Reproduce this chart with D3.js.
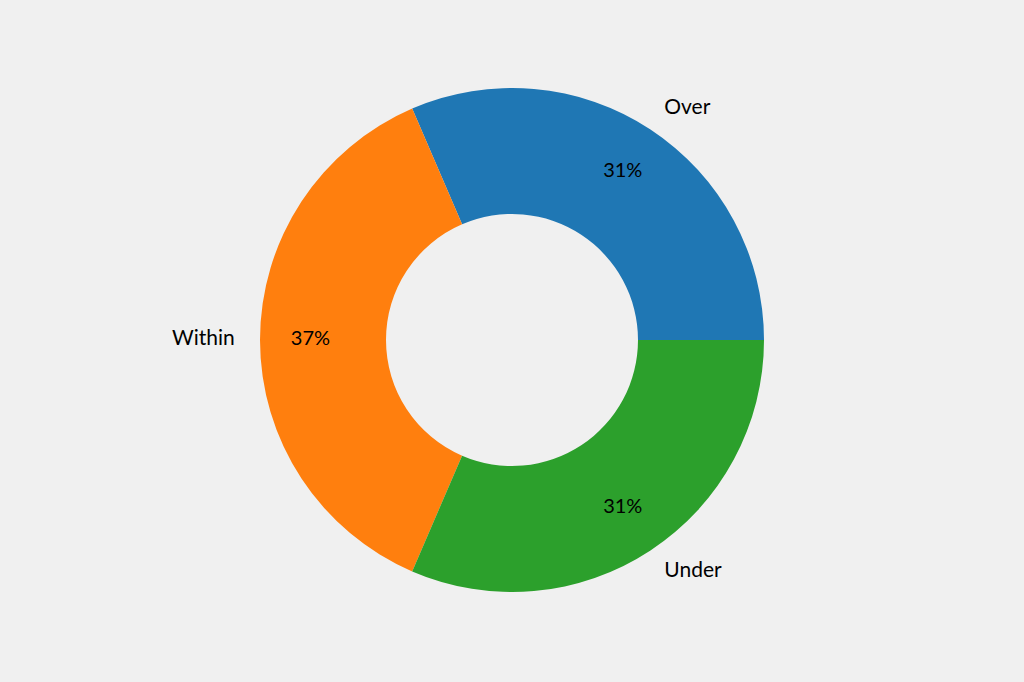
<!DOCTYPE html>
<html><head><meta charset="utf-8">
<script src="https://cdn.jsdelivr.net/npm/d3@7"></script>
<style>body{margin:0;background:#f0f0f0}</style>
</head><body>
<svg width="1024" height="682"></svg>
<script>
var labels = ["Over", "Within", "Under"];
var values = [17, 20, 17];
var colors = ["#1f77b4", "#ff7f0e", "#2ca02c"];

var R = 252, r = 126;
var svg = d3.select('svg');
svg.append('rect').attr('width', 1024).attr('height', 682).attr('fill', '#f0f0f0');
var g = svg.append('g').attr('transform', 'translate(512,340)');

var pie = d3.pie().sort(null)
  .startAngle(Math.PI / 2).endAngle(Math.PI / 2 - 2 * Math.PI);
var arcs = pie(values);
var arc = d3.arc().innerRadius(r).outerRadius(R);
var total = d3.sum(values);

g.selectAll('path').data(arcs).enter().append('path')
  .attr('d', arc)
  .attr('fill', function(d, i){ return colors[i]; });

function pos(d, k){
  var a = (d.startAngle + d.endAngle) / 2;
  return [Math.sin(a) * R * k, -Math.cos(a) * R * k];
}

g.selectAll('.lab').data(arcs).enter().append('text')
  .attr('class', 'lab')
  .attr('x', function(d){ return pos(d, 1.1)[0]; })
  .attr('y', function(d){ return pos(d, 1.1)[1]; })
  .attr('text-anchor', function(d){ return pos(d, 1)[0] < -1 ? 'end' : 'start'; })
  .attr('dominant-baseline', 'middle')
  .attr('font-family', 'Lato, sans-serif').attr('font-size', 21)
  .text(function(d, i){ return labels[i]; });

g.selectAll('.pct').data(arcs).enter().append('text')
  .attr('class', 'pct')
  .attr('x', function(d){ return pos(d, 0.8)[0]; })
  .attr('y', function(d){ return pos(d, 0.8)[1]; })
  .attr('text-anchor', 'middle')
  .attr('dominant-baseline', 'middle')
  .attr('font-family', 'Lato, sans-serif').attr('font-size', 20)
  .text(function(d){ return Math.round(d.value / total * 100) + '%'; });
</script>
</body></html>
